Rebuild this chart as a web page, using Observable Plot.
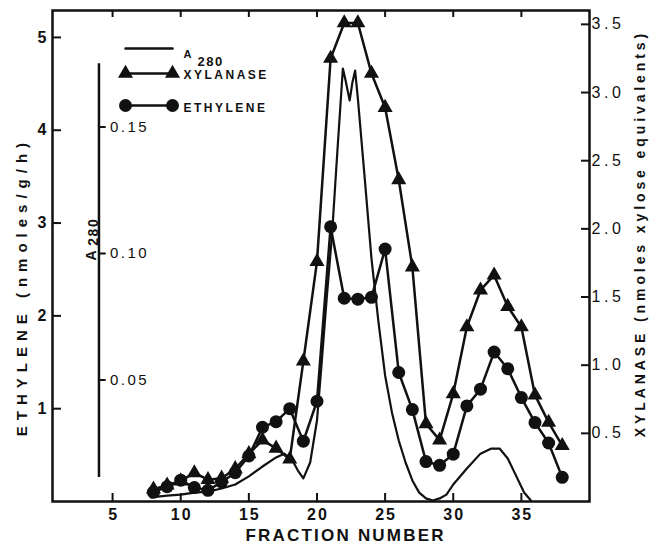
<!DOCTYPE html>
<html>
<head>
<meta charset="utf-8">
<script src="https://cdn.jsdelivr.net/npm/d3@7"></script>
<script src="https://cdn.jsdelivr.net/npm/@observablehq/plot@0.6"></script>
<style>
  html, body { margin: 0; padding: 0; background: #fff; }
</style>
</head>
<body>
<div id="chart"></div>
<script>
// ---- data ----
const fractions = [8,9,10,11,12,13,14,15,16,17,18,19,20,21,22,23,24,25,26,27,28,29,30,31,32,33,34,35,36,37,38];
const ethylene = [0.10,0.16,0.23,0.15,0.12,0.21,0.31,0.49,0.80,0.86,1.00,0.65,1.08,2.96,2.19,2.18,2.20,2.72,1.39,0.99,0.43,0.39,0.51,1.03,1.21,1.61,1.43,1.12,0.85,0.63,0.26];
const xylanase = [0.09,0.12,0.15,0.21,0.16,0.17,0.24,0.35,0.45,0.39,0.31,1.03,1.76,3.25,3.51,3.51,3.14,2.89,2.36,1.72,0.57,0.45,0.79,1.28,1.55,1.66,1.43,1.28,0.78,0.58,0.41];
const a280Fraction = [7.8,9,10,11,12,13,14,15,16,17,17.6,18.2,18.6,19.0,19.5,20.0,20.3,20.7,21.1,21.5,21.9,22.1,22.4,22.6,22.8,23.0,23.5,24.0,24.5,25.0,25.5,26.0,26.5,27.0,27.5,28.0,28.5,29.0,29.5,30.0,31.0,32.0,32.8,33.4,34.0,34.6,35.2,35.7];
const a280Value = [0.0036,0.0043,0.0047,0.0055,0.0059,0.0071,0.0087,0.0119,0.0158,0.0194,0.0209,0.0182,0.0142,0.0111,0.0174,0.0340,0.0538,0.0814,0.1071,0.1407,0.1731,0.1684,0.1605,0.1676,0.1723,0.1613,0.1300,0.0980,0.0735,0.0518,0.0372,0.0261,0.0174,0.0103,0.0055,0.0032,0.0024,0.0032,0.0047,0.0087,0.0150,0.0209,0.0229,0.0229,0.0190,0.0123,0.0055,0.0024];

const xTicks = [5,10,15,20,25,30,35];
const ethyleneTicks = [1,2,3,4,5];
const xylanaseTicks = [0.5,1.0,1.5,2.0,2.5,3.0,3.5];
const a280Ticks = [0.05,0.10,0.15];
const a280AxisSpan = [0.0115, 0.175];
const a280AxisFraction = 4.0;

const xTitle = "FRACTION NUMBER";
const ethyleneTitle = "ETHYLENE (nmoles/g/h)";
const xylanaseTitle = "XYLANASE (nmoles xylose equivalents)";
const legendNames = ["XYLANASE", "ETHYLENE"];

// scale relations between the secondary axes and the ethylene axis
const xDomain = [0.59, 40.0];
const yDomain = [0, 5.29];
const XYL_K = 136.3 / 92.8;            // xylanase unit -> ethylene unit
const a2e = a => a * 27.26 - 0.054;     // A280 unit -> ethylene unit

const rows = fractions.map((f, i) => ({fraction: f, ethylene: ethylene[i], xylanase: xylanase[i]}));
const a280Rows = a280Fraction.map((f, i) => ({fraction: f, a280: a280Value[i]}));

const seg = {draw(ctx, l) { ctx.moveTo(0, 0); ctx.lineTo(0, -l); }};
const INK = "#111";
const TRI_R = 5.6, DOT_R = 6.5, LW = 2.5;

const legendLine = (dx, dy) => Plot.vector([0], {frameAnchor: "top-left", dx, dy, length: 47, rotate: 90, anchor: "start", shape: seg, stroke: INK, strokeWidth: LW});
const legendMark = (dx, dy, symbol, r) => Plot.dot([0], {frameAnchor: "top-left", dx, dy, symbol, r, fill: INK, stroke: "none"});

const plot = Plot.plot({
  width: 649,
  height: 550,
  marginLeft: 52,
  marginRight: 60,
  marginTop: 10,
  marginBottom: 49,
  x: {domain: xDomain},
  y: {domain: yDomain},
  style: {fontFamily: "'Liberation Sans', Arial, Helvetica, sans-serif", fontSize: "15px", color: INK, background: "#fff"},
  marks: [
    Plot.frame({stroke: INK, strokeWidth: 2.5}),
    Plot.axisX({anchor: "bottom", ticks: xTicks, tickFormat: d => String(d), tickSize: -8, tickPadding: 15, strokeWidth: 2, fontSize: 16, fontWeight: "bold", label: null}),
    Plot.axisX({anchor: "top", ticks: xTicks, tickSize: -6, strokeWidth: 2, tickFormat: () => "", label: null}),
    Plot.axisY({anchor: "left", ticks: ethyleneTicks, tickFormat: d => String(d), tickSize: -9, tickPadding: 15, strokeWidth: 2, fontSize: 16, fontWeight: "bold", label: null}),
    Plot.axisY({anchor: "right", ticks: xylanaseTicks.map(v => v * XYL_K), tickFormat: d => (d / XYL_K).toFixed(1), tickSize: -9, tickPadding: 11, strokeWidth: 2, fontSize: 16, label: null}),

    // inner A280 axis
    Plot.ruleX([a280AxisFraction], {x: d => d, y1: a2e(a280AxisSpan[0]), y2: a2e(a280AxisSpan[1]), stroke: INK, strokeWidth: LW}),
    Plot.vector(a280Ticks, {x: () => a280AxisFraction, y: d => a2e(d), length: 6, rotate: 90, anchor: "start", shape: seg, stroke: INK, strokeWidth: 2}),
    Plot.text(a280Ticks, {x: () => a280AxisFraction, y: d => a2e(d), text: d => d.toFixed(2), textAnchor: "start", dx: 11, fontSize: 15, fill: INK}),
    Plot.text(["A"], {frameAnchor: "top-left", textAnchor: "middle", dx: 34, dy: 245, rotate: -90, fontSize: 14, fontWeight: "bold", fill: INK}),
    Plot.text(["280"], {frameAnchor: "top-left", textAnchor: "middle", dx: 36, dy: 222, rotate: -90, fontSize: 14, fontWeight: "bold", fill: INK}),

    // data
    Plot.line(a280Rows, {x: "fraction", y: d => a2e(d.a280), stroke: INK, strokeWidth: 2.2}),
    Plot.line(rows, {x: "fraction", y: d => d.xylanase * XYL_K, stroke: INK, strokeWidth: LW}),
    Plot.line(rows, {x: "fraction", y: "ethylene", stroke: INK, strokeWidth: LW}),
    Plot.dot(rows, {x: "fraction", y: d => d.xylanase * XYL_K, symbol: "triangle", r: TRI_R, fill: INK, stroke: "none"}),
    Plot.dot(rows, {x: "fraction", y: "ethylene", r: DOT_R, fill: INK, stroke: "none"}),

    // legend
    legendLine(73, 38),
    legendLine(73, 63),
    legendMark(73, 63, "triangle", TRI_R),
    legendMark(120, 63, "triangle", TRI_R),
    legendLine(73, 95),
    legendMark(73, 95, "circle", DOT_R),
    legendMark(120, 95, "circle", DOT_R),
    Plot.text(["A"], {frameAnchor: "top-left", textAnchor: "start", dx: 131, dy: 40, fontSize: 11, fontWeight: "bold", fill: INK}),
    Plot.text(["280"], {frameAnchor: "top-left", textAnchor: "start", dx: 145, dy: 46, fontSize: 13, fontWeight: "bold", fill: INK}),
    Plot.text([legendNames[0]], {frameAnchor: "top-left", textAnchor: "start", dx: 131, dy: 60, fontSize: 12, fontWeight: "bold", fill: INK}),
    Plot.text([legendNames[1]], {frameAnchor: "top-left", textAnchor: "start", dx: 131, dy: 93, fontSize: 12, fontWeight: "bold", fill: INK}),

    // axis titles
    Plot.text([xTitle], {frameAnchor: "bottom-left", textAnchor: "middle", dx: 292, dy: 39, fontSize: 17, fontWeight: "bold", fill: INK}),
    Plot.text([ethyleneTitle], {frameAnchor: "top-left", textAnchor: "middle", dx: -36, dy: 279, rotate: -90, fontSize: 15, fontWeight: "bold", fill: INK}),
    Plot.text([xylanaseTitle], {frameAnchor: "top-right", textAnchor: "middle", dx: 46, dy: 225, rotate: -90, fontSize: 14, fontWeight: "bold", fill: INK})
  ]
});

document.getElementById("chart").appendChild(plot);

// letter spacing of the typeset labels (matched by their content), applied as stretched text length
const spacing = new Map();
spacing.set(xTitle, 2.2);
spacing.set(ethyleneTitle, 6);
spacing.set(xylanaseTitle, 3.9);
legendNames.forEach(n => spacing.set(n, 2.5));
spacing.set("280", 1.5);
xTicks.forEach(v => { if (!spacing.has(String(v))) spacing.set(String(v), 2); });
xylanaseTicks.forEach(v => spacing.set(v.toFixed(1), 3.5));
a280Ticks.forEach(v => spacing.set(v.toFixed(2), 2.5));

plot.querySelectorAll("text").forEach(t => {
  const txt = t.textContent;
  if (!txt || txt.length < 2 || !spacing.has(txt)) return;
  const ls = spacing.get(txt);
  const anchor = getComputedStyle(t).textAnchor;
  const w = t.getComputedTextLength();
  const L = w + (txt.length - 1) * ls;
  const x0 = parseFloat(t.getAttribute("x") || 0);
  const shift = anchor === "middle" ? -L / 2 : anchor === "end" ? -L : 0;
  t.setAttribute("x", (x0 + shift).toFixed(1));
  t.setAttribute("text-anchor", "start");
  t.style.textAnchor = "start";
  t.setAttribute("textLength", L.toFixed(1));
  t.setAttribute("lengthAdjust", "spacing");
});
</script>
</body>
</html>
